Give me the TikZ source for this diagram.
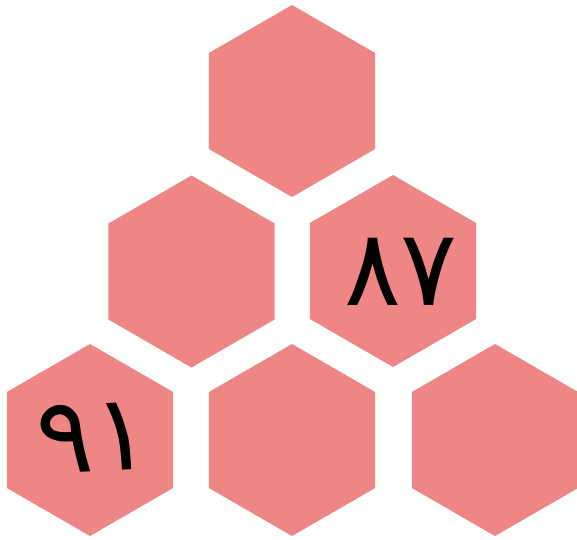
\documentclass[tikz,border=0pt]{standalone}
\usepackage{fontspec}
\usetikzlibrary{shapes.geometric}
\newfontfamily\arabicfont[Script=Arabic]{DejaVu Sans}
\TeXXeTstate=1
\definecolor{hexfill}{RGB}{238,134,133}
\tikzset{
  hexcell/.style={regular polygon, regular polygon sides=6, shape border rotate=30,
    minimum size=192pt, inner sep=0pt, fill=hexfill, draw=none},
  numtext/.style={font=\arabicfont\fontsize{106}{108}\selectfont, inner sep=0pt, text=black}
}
\begin{document}
\begin{tikzpicture}[x=1pt,y=-1pt]
\useasboundingbox (0,0) rectangle (577,539);
\node[hexcell] (h1) at (292,101) {};
\node[hexcell] (h2) at (191.5,271.5) {};
\node[hexcell] (h3) at (393,271) {};
\node[hexcell] (h4) at (90,440) {};
\node[hexcell] (h5) at (292,440) {};
\node[hexcell] (h6) at (495,440) {};
\node[numtext] (t3) at (401,272) {\beginR ٨٧\endR};
\node[numtext, rotate=3] (t4) at (94,438) {\beginR ٩١\endR};
\end{tikzpicture}
\end{document}
